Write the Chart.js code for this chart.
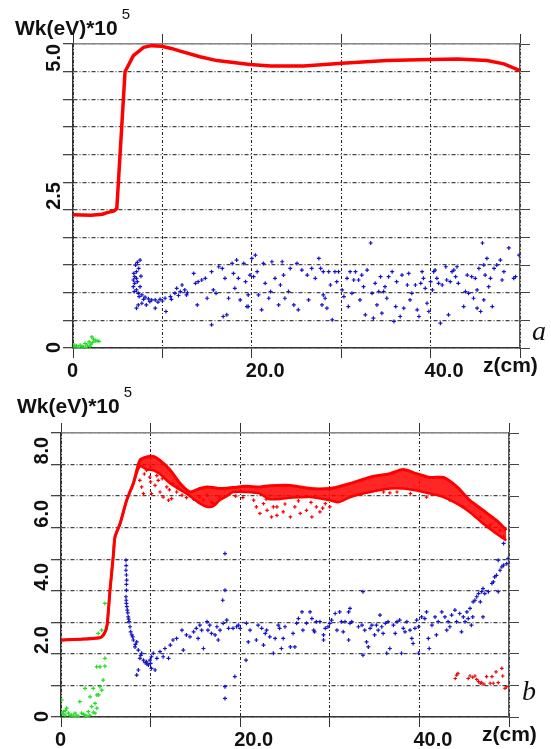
<!DOCTYPE html>
<html>
<head>
<meta charset="utf-8">
<script src="https://cdn.jsdelivr.net/npm/chart.js@4.4.1/dist/chart.umd.min.js"></script>
<style>
  body { margin: 0; background: #fff; }
  #wrap { position: relative; width: 551px; height: 749px; }
  canvas { position: absolute; left: 0; }
  #chartA { top: 0; }
  #chartB { top: 380px; }
</style>
</head>
<body>
<div id="wrap">
  <canvas id="chartA" width="551" height="380"></canvas>
  <canvas id="chartB" width="551" height="369"></canvas>
</div>
<script>
// tick labels
const xTickLabels = [0, 20, 40];
const yTickLabelsA = [0, 2.5, 5];
const yTickLabelsB = [0, 2, 4, 6, 8];

// panel a : red band (z, W)
const bandAz = [0, 2.0, 3.3, 3.8, 4.6, 4.9, 5.82, 6.75, 7.9, 8.8, 9.9, 11.0, 12.0, 14.2, 16.1, 19.8, 22.1, 25.8, 30.1, 35.1, 40.0, 43.0, 46.3, 48.2, 50.0];
const bandAw = [2.41, 2.40, 2.42, 2.45, 2.48, 2.52, 5.0, 5.29, 5.44, 5.47, 5.46, 5.42, 5.37, 5.27, 5.2, 5.13, 5.10, 5.10, 5.15, 5.2, 5.22, 5.23, 5.2, 5.14, 5.02];

// panel a : blue particles [z, W]
const blueA = [
  [7.5,1.59],[7.35,1.44],[7.1,1.38],[6.9,1.29],[6.75,1.23],[6.9,1.17],[6.75,1.11],[7.1,1.05],[7.3,0.99],[7.7,0.96],
  [8.06,0.92],[8.43,0.89],[8.8,0.87],[9.2,0.87],[9.74,0.88],[10.3,0.90],[10.9,0.93],[11.4,0.99],[12.0,1.02],[12.5,1.05],
  [7.1,1.26],[7.5,1.11],[7.3,0.78],[7.1,0.72],[7.7,0.81],[8.2,0.78],[9.2,0.72],[10.4,0.66],
  [6.8,1.35],[7.0,1.50],[7.2,1.20],[6.85,1.02],[7.4,0.93],[7.9,0.88],[8.6,0.84],[9.5,0.83],[10.0,0.85],[11.0,0.88],
  [7.6,1.30],[7.2,1.55],[11.8,0.95],[12.8,1.0],
  [11.6,1.08],[12.2,1.14],[12.7,0.96],[13.5,1.35],[13.7,1.17],[14.0,1.20],[14.4,1.23],[14.8,1.26],[15.0,0.90],[13.9,0.78],
  [15.5,1.38],[15.7,1.05],[16.0,0.99],[16.3,1.47],[16.7,1.44],[16.8,0.57],[17.2,0.60],[17.0,1.26],[17.4,0.90],[17.8,1.53],
  [17.95,1.35],[18.1,1.08],[18.3,1.59],[18.5,1.26],[18.7,0.87],[19.1,1.53],[19.3,1.20],[19.45,0.75],[19.6,0.96],[19.8,1.32],
  [20.0,1.62],[20.2,1.29],[20.4,1.68],[20.6,1.38],[20.75,0.96],[21.1,0.69],[21.3,1.53],[21.5,1.17],[21.9,0.90],[22.1,1.02],
  [22.25,1.56],[22.6,1.26],[23.0,0.78],[23.2,1.14],[23.4,1.56],[23.55,1.32],[23.7,0.90],[24.1,1.02],[24.3,1.44],[24.7,0.78],
  [25.05,1.53],[25.2,0.69],[25.6,1.41],[26.2,1.32],[26.35,0.87],[26.7,1.44],[27.1,1.26],[27.5,1.62],[27.7,1.44],[27.85,0.78],
  [28.0,0.96],[15.5,0.42],[19.6,0.75],
  [28.0,1.38],[28.2,0.90],[28.4,0.72],[28.6,1.38],[28.8,1.14],[29.0,0.51],[29.3,1.38],[29.5,1.20],[29.7,1.38],[30.1,1.05],
  [30.3,0.93],[30.65,1.26],[30.8,0.75],[31.0,1.38],[31.2,0.99],[31.4,1.23],[31.6,1.38],[31.95,1.23],[32.1,0.87],[32.3,1.32],
  [32.5,1.11],[32.7,0.60],[32.9,1.41],[33.3,1.90],[33.45,0.99],[33.6,0.54],[33.8,1.17],[34.0,0.78],[34.2,1.02],[34.4,1.29],
  [34.55,0.63],[34.75,1.02],[34.9,1.11],[35.1,0.90],[35.3,1.29],[35.7,1.38],[35.9,0.48],[36.1,0.75],[36.2,1.20],[36.6,0.57],
  [36.8,1.32],[37.0,0.72],[37.4,1.14],[37.55,1.35],[37.7,0.87],[37.9,0.99],[38.3,1.14],[38.5,0.69],[38.7,0.57],[38.9,1.17],
  [39.05,1.38],[39.2,1.26],[39.4,1.08],[39.6,0.81],[39.8,0.66],[40.0,1.20],[40.2,1.05],[40.35,1.38],[40.5,1.41],[40.7,1.26],
  [40.9,1.17],[41.1,0.45],[41.3,1.14],[41.7,1.47],[41.8,1.23],[42.0,0.60],[42.2,1.20],[42.4,1.38],[42.6,1.41],[42.8,1.29],
  [42.95,1.47],[43.1,1.17],[43.7,0.75],[43.9,1.02],[44.1,1.32],[44.25,0.99],[44.6,1.29],[44.8,0.90],[45.0,1.26],[45.2,1.05],
  [45.2,0.72],[45.4,1.44],[45.6,0.66],[45.8,1.90],[45.95,1.50],[45.95,0.87],[46.1,1.32],[46.3,1.62],[46.5,1.11],[46.7,1.26],
  [46.9,0.75],[47.1,1.44],[47.4,1.50],[47.8,1.59],[48.0,1.23],[48.2,1.38],[48.75,1.81],[49.3,1.26],[49.5,1.29],[49.9,1.68]
];

// panel a : green particles
const greenA = [
  [0.1,0.02],[0.2,0.05],[0.4,0.04],[0.6,0.01],[0.8,0.05],[1.0,0.03],[1.15,0.02],[1.35,0.08],[1.4,0.01],[1.6,0.05],
  [1.8,0.11],[1.9,0.03],[2.0,0.07],[2.1,0.20],[2.2,0.10],[2.3,0.16],[2.5,0.13],[2.7,0.13],[2.9,0.12]
];

// panel b : red band, upper and lower edge
const bandBz   = [0, 2.5, 4.35, 4.7, 5.0, 5.17, 5.47, 5.84, 6.03, 6.6, 7.33, 8.07, 8.8, 9.55, 10.3, 11.05, 12.2, 13.3, 14.4, 15.5, 16.3, 17.0, 17.7, 18.5, 19.2, 20.7, 22.2, 23.3, 25.6, 27.8, 30.0, 31.0, 32.3, 34.5, 36.7, 38.2, 39.7, 41.2, 42.7, 44.2, 45.6, 47.1, 48.6, 49.7];
const bandBtop = [2.44, 2.47, 2.51, 2.59, 2.75, 2.97, 4.02, 5.12, 5.71, 6.13, 6.87, 7.4, 8.13, 8.24, 8.26, 8.13, 7.82, 7.4, 7.13, 7.24, 7.29, 7.27, 7.24, 7.25, 7.27, 7.31, 7.29, 7.33, 7.34, 7.24, 7.24, 7.3, 7.4, 7.6, 7.71, 7.84, 7.71, 7.59, 7.59, 7.29, 6.87, 6.55, 6.23, 5.92];
const bandBbot = [2.44, 2.47, 2.51, 2.59, 2.75, 2.97, 4.02, 5.12, 5.71, 6.13, 6.87, 7.4, 7.95, 7.85, 7.82, 7.7, 7.4, 7.2, 7.0, 6.77, 6.66, 6.68, 6.87, 7.0, 7.13, 7.13, 7.08, 6.9, 6.95, 6.97, 6.87, 6.81, 6.97, 7.13, 7.24, 7.24, 7.18, 7.08, 6.97, 6.76, 6.5, 6.13, 5.81, 5.6];

// panel b : red particles below the band
const redB = [
  [8.8,7.5],[9.0,7.29],[9.2,7.08],[9.55,7.82],[9.9,7.6],[10.1,7.08],[10.5,7.34],[10.85,7.5],[11.05,7.13],[11.4,6.97],
  [11.8,7.29],[12.0,6.87],[12.35,6.92],[12.5,7.4],[12.9,7.13],[13.5,7.03],[15.5,6.97],[15.9,6.87],[16.3,7.03],[17.0,6.76],
  [17.7,6.97],[21.5,6.87],[21.8,6.66],[22.2,6.45],[22.6,6.76],[23.0,6.55],[23.5,6.34],[24.1,6.66],[23.7,6.66],[24.1,6.39],
  [24.8,6.5],[25.6,6.34],[26.1,6.66],[26.7,6.45],[27.4,6.55],[28.0,6.34],[28.5,6.66],[28.9,6.5],[29.5,6.76],[30.0,6.66],
  [35.2,7.18],[36.0,7.13],[36.7,7.1],[37.5,7.13],[39.0,7.08],[40.8,6.97],[43.4,6.87],[44.9,6.66],[46.8,6.34],[47.9,6.08],
  [49.0,5.92],[49.4,5.71],
  [9.3,7.7],[10.0,7.45],[10.7,7.65],[11.3,7.55],[12.1,7.2],[13.0,7.3],[14.0,6.95],[14.8,6.9],[16.8,6.8],[19.5,7.0],
  [20.3,6.95],[22.9,6.9],[25.0,6.75],[26.5,6.85],[27.9,6.8],[29.2,6.62]
];

// panel b : small red group near the exit
const redLowB = [
  [44.0,1.22],[44.15,1.33],[44.3,1.38],[45.45,1.22],[45.65,1.30],[45.95,1.26],[46.2,1.30],[46.4,1.19],[46.6,1.12],[46.8,1.07],
  [46.95,1.09],[47.2,1.04],[47.5,1.28],[47.9,1.07],[48.1,1.28],[48.25,1.07],[48.55,1.43],[48.8,1.09],[49.2,1.54],[49.3,1.30],
  [49.55,0.91],[49.75,0.96]
];

// panel b : blue particles
const blueB = [
  [7.25,4.97],[7.28,4.8],[7.25,4.65],[7.3,4.5],[7.33,4.34],[7.3,4.2],[7.3,4.02],[7.25,3.81],[7.28,3.7],[7.3,3.6],
  [7.35,3.5],[7.4,3.39],[7.45,3.3],[7.5,3.17],[7.55,3.1],[7.6,3.02],[7.7,2.86],[7.78,2.7],[7.9,2.6],[8.0,2.54],
  [8.07,2.44],[8.45,2.38],[8.3,2.3],[8.26,2.22],[8.63,2.12],[9.0,2.02],[8.9,1.95],[8.8,1.86],[9.2,1.80],[9.55,1.75],
  [9.4,1.72],[9.6,1.68],[10.0,1.7],[9.93,1.80],[9.75,1.65],[10.1,1.54],[8.63,1.49],[8.45,1.33],[10.1,1.91],[10.3,2.02],
  [10.5,1.49],[10.7,1.86],[11.05,2.07],[11.4,1.91],[11.6,2.17],[12.0,1.86],[12.2,2.28],[12.5,2.44],[12.9,2.49],[13.5,2.75],
  [13.65,2.12],[14.0,2.6],[14.4,2.54],[14.8,2.7],[15.1,2.81],[15.3,2.49],[15.5,2.91],[15.7,2.75],[15.9,2.17],[16.3,3.02],
  [16.4,2.75],[16.6,2.91],[16.8,2.65],[17.2,2.6],[17.4,2.86],[17.55,2.44],[17.75,2.75],[18.1,2.97],[18.3,5.18],[18.3,4.02],
  [18.05,3.7],[18.5,3.07],[18.7,2.81],[18.3,0.96],[18.3,0.59],[19.2,2.81],[19.4,1.28],[19.6,2.86],[19.8,2.91],[20.0,2.81],
  [20.65,1.80],[20.7,2.97],[20.9,2.38],[21.1,2.75],[21.8,2.44],[22.0,2.91],[22.4,2.81],[22.6,2.28],[22.8,2.65],[22.95,2.75],
  [23.3,2.54],[23.7,2.02],[23.9,2.49],[24.25,2.91],[24.4,2.81],[24.6,2.17],[24.8,2.49],[25.0,2.86],[25.6,2.22],[25.9,2.65],
  [26.1,2.22],[26.3,2.97],[26.5,3.12],[26.9,3.33],[27.0,2.75],[27.4,2.97],[27.8,3.33],[28.0,3.12],[28.3,2.7],[28.5,3.02],
  [28.2,2.75],[28.9,3.02],[29.3,2.6],[29.3,2.44],[29.5,2.81],[29.8,2.86],[30.0,2.97],[30.2,3.07],[30.6,3.28],[30.8,2.75],
  [31.1,3.33],[31.3,3.02],[31.5,2.7],[31.7,3.02],[32.1,3.33],[32.1,2.44],[32.25,3.44],[32.25,2.97],[32.45,3.02],[33.2,2.86],
  [33.6,2.91],[33.7,3.97],[33.7,1.96],[33.9,2.75],[34.1,2.38],[34.3,2.22],[34.5,2.81],[34.7,2.91],[35.0,2.6],[35.2,2.91],
  [35.4,2.75],[35.6,3.23],[35.8,2.86],[35.95,2.65],[36.2,2.97],[36.35,2.02],[36.5,3.02],[36.7,2.17],[37.1,2.91],[37.3,2.65],
  [37.5,3.02],[37.8,3.07],[38.0,2.02],[38.2,2.81],[38.4,2.7],[38.6,3.02],[38.95,2.75],[39.15,2.49],[39.3,2.33],[39.5,2.81],
  [39.7,3.07],[39.9,2.02],[39.9,2.86],[40.25,3.17],[40.6,3.12],[40.8,3.33],[41.0,2.49],[41.1,2.17],[41.4,2.91],[41.75,3.17],
  [41.9,2.6],[42.1,3.02],[42.5,3.33],[42.85,3.17],[43.05,2.75],[43.2,3.02],[43.4,2.86],[43.6,3.23],[43.97,3.39],[44.15,3.02],
  [44.5,3.28],[44.7,2.7],[44.9,3.17],[45.1,3.02],[45.3,3.33],[45.45,3.12],[45.65,3.44],[45.8,2.91],[45.95,3.17],[46.0,3.65],
  [46.2,3.7],[46.4,3.81],[46.6,3.91],[46.8,3.65],[46.95,3.97],[47.1,4.07],[47.1,3.17],[47.3,3.91],[47.7,3.97],[48.1,4.23],
  [48.25,4.28],[48.4,4.44],[48.6,4.49],[48.8,3.97],[49.0,4.65],[49.2,4.76],[49.4,4.81],[49.75,4.86],[49.9,5.02],[48.8,4.97],
  [49.4,5.5]
];

// panel b : green particles
const greenB = [
  [0.07,0.54],[0.26,0.17],[0.45,0.06],[0.63,0.28],[0.82,0.12],[1.2,0.06],[1.56,0.12],[1.9,0.03],[2.1,0.49],[2.3,0.12],
  [2.68,0.06],[2.68,0.91],[3.05,0.17],[3.24,0.64],[3.42,0.33],[3.6,0.91],[3.8,0.12],[3.8,0.43],[4.0,0.70],[4.0,0.28],
  [4.2,0.70],[4.35,0.96],[4.55,0.85],[4.35,1.59],[4.7,1.17],[3.98,1.59],[4.9,1.61],[4.9,1.86],[4.16,2.65],[4.54,2.75],
  [4.9,3.6],[1.0,0.05],[1.7,0.03],[1.4,0.02],[2.5,0.08],[2.9,0.02],[3.2,0.05],[3.6,0.15],[0.2,0.1],[0.5,0.2]
];

const FONT = '"Liberation Sans", Arial, sans-serif';
const pts = arr => arr.map(p => ({ x: p[0], y: p[1] }));
const zip = (xs, ys) => xs.map((x, i) => ({ x: x, y: ys[i] }));
const fmt = v => v === 0 ? '0' : v.toFixed(1);

function crosses(data, color, r) {
  return {
    data: pts(data), showLine: false, pointStyle: 'cross',
    pointRadius: r, pointBorderColor: color, pointBackgroundColor: color, pointBorderWidth: 1.2
  };
}

// draws tick labels, axis title, unit and panel letter
const axisText = {
  id: 'axisText',
  afterDraw(chart, args, o) {
    const { ctx, scales: { x, y } } = chart;
    ctx.save();
    ctx.fillStyle = '#111';
    ctx.textBaseline = 'alphabetic';
    ctx.textAlign = 'left';
    ctx.font = 'bold 20px ' + FONT;
    xTickLabels.forEach(v => ctx.fillText(fmt(v), x.getPixelForValue(v) - 6, y.bottom + 29));
    o.yLabels.forEach(v => {
      ctx.save();
      ctx.translate(x.left - 13, y.getPixelForValue(v) + (v === 0 ? 5 : 0));
      ctx.rotate(-Math.PI / 2);
      ctx.fillText(fmt(v), 0, 0);
      ctx.restore();
    });
    ctx.font = 'bold 21px ' + FONT;
    ctx.fillText('z(cm)', o.unitX, y.bottom + 24);
    ctx.fillText('Wk(eV)*10', o.titleX, o.titleY);
    const w = ctx.measureText('Wk(eV)*10').width;
    ctx.font = '15px ' + FONT;
    ctx.fillText('5', o.titleX + w + 4, o.titleY - 16);
    ctx.font = 'italic 28px "Liberation Serif", "Times New Roman", serif';
    ctx.fillText(o.letter, o.letterX, o.letterY);
    ctx.restore();
  }
};

function scalesFor(yMax, yStep) {
  const dash = [4, 2, 1, 2];
  return {
    x: {
      type: 'linear', position: 'bottom', min: 0, max: 50,
      ticks: { display: false, stepSize: 10 },
      grid: { color: '#222', lineWidth: 1, tickLength: 10, tickColor: '#333' },
      border: { color: '#333', width: 1.5, dash: [3, 2, 1, 2] }
    },
    x2: {
      type: 'linear', position: 'top', min: 0, max: 50,
      ticks: { display: false, stepSize: 10 },
      grid: { drawOnChartArea: false, tickLength: 10, tickColor: '#333' },
      border: { color: '#888', width: 1.5 }
    },
    y: {
      type: 'linear', position: 'left', min: 0, max: yMax,
      ticks: { display: false, stepSize: yStep },
      grid: { color: '#444', lineWidth: 1.3, tickLength: 10, tickColor: '#444' },
      border: { color: '#333', width: 1.5, dash: dash }
    },
    y2: {
      type: 'linear', position: 'right', min: 0, max: yMax,
      ticks: { display: false, stepSize: yStep },
      grid: { drawOnChartArea: false, tickLength: 10, tickColor: '#444' },
      border: { color: '#555', width: 1.5 }
    }
  };
}

const common = {
  responsive: false,
  animation: false,
  events: [],
  plugins: { legend: { display: false }, tooltip: { enabled: false } }
};

// panel a
new Chart(document.getElementById('chartA'), {
  type: 'line',
  data: {
    datasets: [
      crosses(blueA, '#1414c8', 2),
      crosses(greenA, '#22dd22', 2),
      {
        data: zip(bandAz, bandAw), borderColor: '#ff0000', borderWidth: 3.5,
        pointRadius: 0, tension: 0, fill: false
      }
    ]
  },
  options: Object.assign({}, common, {
    layout: { padding: { left: 63, right: 21, top: 34, bottom: 22 } },
    scales: scalesFor(5.5, 0.5),
    plugins: Object.assign({}, common.plugins, {
      axisText: { yLabels: yTickLabelsA, unitX: 483, titleX: 15, titleY: 35, letter: 'a', letterX: 532, letterY: 340 }
    })
  }),
  plugins: [axisText]
});

// panel b
new Chart(document.getElementById('chartB'), {
  type: 'line',
  data: {
    datasets: [
      crosses(blueB, '#1414c8', 2),
      crosses(greenB, '#22dd22', 2),
      crosses(redLowB, '#e01010', 1.8),
      crosses(redB, '#ff0000', 1.8),
      {
        data: zip(bandBz, bandBtop), borderColor: '#ff0000', borderWidth: 3,
        pointRadius: 0, tension: 0.25, fill: false
      },
      {
        data: zip(bandBz, bandBbot), borderColor: '#ff0000', borderWidth: 2.5,
        pointRadius: 0, tension: 0.25, fill: '-1', backgroundColor: 'rgba(255,0,0,0.85)'
      }
    ]
  },
  options: Object.assign({}, common, {
    layout: { padding: { left: 51, right: 32, top: 43, bottom: 22 } },
    scales: scalesFor(9, 1),
    plugins: Object.assign({}, common.plugins, {
      axisText: { yLabels: yTickLabelsB, unitX: 482, titleX: 17, titleY: 33, letter: 'b', letterX: 522, letterY: 320 }
    })
  }),
  plugins: [axisText]
});
</script>
</body>
</html>
